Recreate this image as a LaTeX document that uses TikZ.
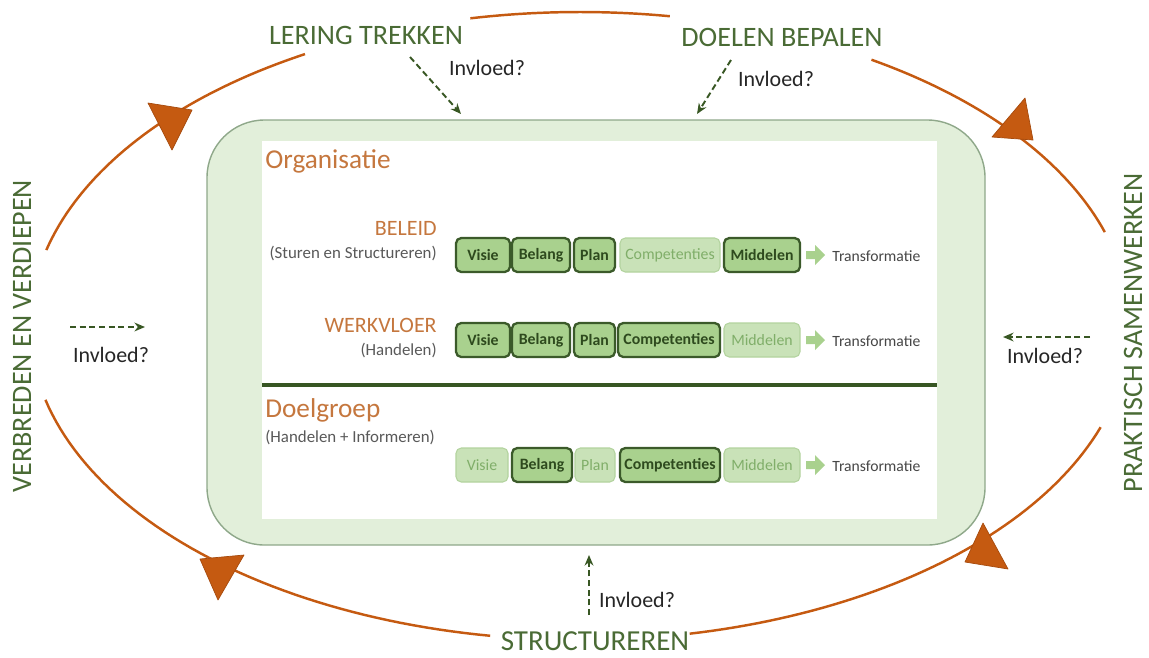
\documentclass[tikz,border=0pt]{standalone}
\usepackage{fontspec}
\setmainfont{Carlito}
\usetikzlibrary{arrows.meta}
\definecolor{orng}{HTML}{C55A11}
\definecolor{orngdark}{HTML}{A64B0E}
\definecolor{dgreen}{HTML}{4A6B35}
\definecolor{ttl}{HTML}{C5773E}
\definecolor{outerfill}{HTML}{E2EFDA}
\definecolor{outerdraw}{HTML}{8FA88A}
\definecolor{sepcol}{HTML}{375623}
\definecolor{actfill}{HTML}{A9D18E}
\definecolor{actdraw}{HTML}{3B5A2A}
\definecolor{acttext}{HTML}{2E4A1E}
\definecolor{inafill}{HTML}{C9E2B8}
\definecolor{inadraw}{HTML}{B3D39E}
\definecolor{inatext}{HTML}{80AE69}
\definecolor{graytext}{HTML}{595959}
\definecolor{infcol}{HTML}{385723}
\begin{document}
\begin{tikzpicture}[x=0.02cm,y=-0.02cm,
  cycletext/.style={text=dgreen,font=\fontsize{16}{18}\selectfont,inner sep=0pt},
  orangeline/.style={draw=orng,line width=1.4pt},
  tri/.style={fill=orng,draw=orngdark,line width=0.4pt,line join=round},
  infl/.style={draw=infcol,line width=1.1pt,dash pattern=on 3.5pt off 2pt,-{Stealth[length=6pt,width=5pt]}},
  infltext/.style={text=black!85,font=\fontsize{12.5}{14}\selectfont,inner sep=0pt},
  bw/.style={minimum width=#1*0.02cm},
  boxbase/.style={rounded corners=3pt,minimum height=0.68cm,inner sep=0pt,font=\fontsize{9}{10}\selectfont},
  act/.style={boxbase,fill=actfill,draw=actdraw,line width=1.3pt,text=acttext,font=\fontsize{9}{10}\selectfont\bfseries},
  ina/.style={boxbase,fill=inafill,draw=inadraw,line width=0.6pt,text=inatext},
  head/.style={text=ttl,inner sep=0pt},
  sub/.style={text=graytext,font=\fontsize{9.6}{11}\selectfont,inner sep=0pt},
  trans/.style={text=graytext!80!black,font=\fontsize{8.9}{10}\selectfont,inner sep=0pt,anchor=west},
  blk/.style={fill=actfill}
]
\useasboundingbox (0,0) rectangle (1149,657);

% cycle arcs
\draw[orangeline] plot[domain=-101.5:-80.6,samples=30] ({580+550*cos(\x)},{326+314*sin(\x)});
\draw[orangeline] plot[domain=-58:-17.4,samples=40] ({580+550*cos(\x)},{326+314*sin(\x)});
\draw[orangeline] plot[domain=18.8:78.5,samples=50] ({580+550*cos(\x)},{326+314*sin(\x)});
\draw[orangeline] plot[domain=99.4:166.4,samples=50] ({580+550*cos(\x)},{326+314*sin(\x)});
\draw[orangeline] plot[domain=194:240,samples=40] ({580+550*cos(\x)},{326+314*sin(\x)});

% triangles
\filldraw[tri] (148,103) -- (192,110) -- (172,150) -- cycle;
\filldraw[tri] (1025,98) -- (992,137) -- (1033,140) -- cycle;
\filldraw[tri] (983,523) -- (965,562) -- (1008,569) -- cycle;
\filldraw[tri] (200,559) -- (244,555) -- (218,600) -- cycle;

% cycle labels
\node[cycletext] (lering) at (366,35) {LERING TREKKEN};
\node[cycletext] (doelen) at (782,37) {DOELEN BEPALEN};
\node[cycletext,font=\fontsize{16.5}{18}\selectfont] (struct) at (595,641) {STRUCTUREREN};
\node[cycletext,rotate=90] (verbreden) at (22,336) {VERBREDEN EN VERDIEPEN};
\node[cycletext,rotate=90] (praktisch) at (1133,333) {PRAKTISCH SAMENWERKEN};

% main box
\filldraw[fill=outerfill,draw=outerdraw,line width=0.8pt,rounded corners=1.15cm] (207,120) rectangle (985,545);
\fill[white] (262,141) rectangle (937,519);
\coordinate (sepL) at (262,385);
\coordinate (sepR) at (937,385);
\draw[sepcol,line width=1.8pt] (sepL) -- (sepR);

% headings
\node[head,anchor=west,font=\fontsize{15.5}{17}\selectfont] (org) at (265,161) {Organisatie};
\node[head,anchor=east,font=\fontsize{12.5}{14}\selectfont] (beleid) at (437,228) {BELEID};
\node[sub,anchor=east] (beleidsub) at (437,253) {(Sturen en Structureren)};
\node[head,anchor=east,font=\fontsize{12.5}{14}\selectfont] (werk) at (437,325) {WERKVLOER};
\node[sub,anchor=east] (werksub) at (437,350) {(Handelen)};
\node[head,anchor=west,font=\fontsize{15.5}{17}\selectfont] (doelgroep) at (265,410) {Doelgroep};
\node[sub,anchor=west] (doelsub) at (265,437) {(Handelen + Informeren)};

% row 1
\node[act,bw=54] (r1a) at (483,255) {Visie};
\node[act,bw=58] (r1b) at (541,255) {Belang};
\node[act,bw=41] (r1c) at (594.5,255) {Plan};
\node[ina,bw=100] (r1d) at (670,255) {Competenties};
\node[act,bw=76] (r1e) at (762,255) {Middelen};
\fill[blk] (806,251) -- (815,251) -- (815,245) -- (825,255) -- (815,265) -- (815,259) -- (806,259) -- cycle;
\node[trans] (r1t) at (832,256) {Transformatie};

% row 2
\node[act,bw=54] (r2a) at (483,340) {Visie};
\node[act,bw=58] (r2b) at (541,340) {Belang};
\node[act,bw=41] (r2c) at (594.5,340) {Plan};
\node[act,bw=102] (r2d) at (669,340) {Competenties};
\node[ina,bw=76] (r2e) at (762,340) {Middelen};
\fill[blk] (806,336) -- (815,336) -- (815,330) -- (825,340) -- (815,350) -- (815,344) -- (806,344) -- cycle;
\node[trans] (r2t) at (832,341) {Transformatie};

% row 3
\node[ina,bw=52] (r3a) at (482,465) {Visie};
\node[act,bw=60] (r3b) at (542,465) {Belang};
\node[ina,bw=40] (r3c) at (595,465) {Plan};
\node[act,bw=100] (r3d) at (670,465) {Competenties};
\node[ina,bw=76] (r3e) at (762,465) {Middelen};
\fill[blk] (806,461) -- (815,461) -- (815,455) -- (825,465) -- (815,475) -- (815,469) -- (806,469) -- cycle;
\node[trans] (r3t) at (832,466) {Transformatie};

% influence arrows
\coordinate (i1s) at (410,57);
\coordinate (i1e) at (461,114);
\draw[infl] (i1s) -- (i1e);
\node[infltext] (inf1) at (487,68) {Invloed?};
\coordinate (i2s) at (731,60);
\coordinate (i2e) at (697,114);
\draw[infl] (i2s) -- (i2e);
\node[infltext] (inf2) at (776,79) {Invloed?};
\coordinate (i3s) at (70,327);
\coordinate (i3e) at (145,327);
\draw[infl] (i3s) -- (i3e);
\node[infltext] (inf3) at (111,355) {Invloed?};
\coordinate (i4s) at (1090,337);
\coordinate (i4e) at (1003,337);
\draw[infl] (i4s) -- (i4e);
\node[infltext] (inf4) at (1045,356) {Invloed?};
\coordinate (i5s) at (589,615);
\coordinate (i5e) at (589,555);
\draw[infl] (i5s) -- (i5e);
\node[infltext] (inf5) at (637,600) {Invloed?};
\end{tikzpicture}
\end{document}
